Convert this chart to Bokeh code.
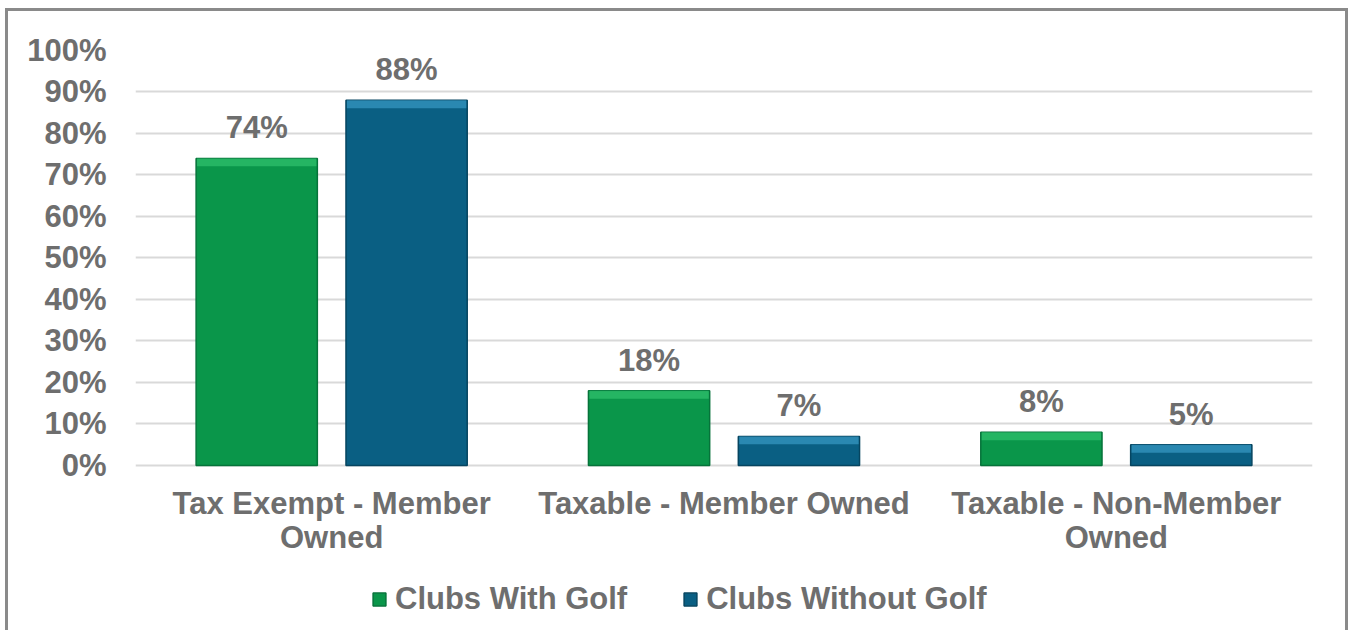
from bokeh.plotting import figure
from bokeh.models import (FactorRange, Range1d, FixedTicker, Legend, LegendItem,
                          ColumnDataSource, LabelSet)
from bokeh.core.properties import value
from bokeh.transform import dodge
from bokeh.embed import file_html
from bokeh.resources import INLINE

# ---- data ----
categories = ["Tax Exempt - Member\nOwned", "Taxable - Member Owned", "Taxable - Non-Member\nOwned"]
series_names = ["Clubs With Golf", "Clubs Without Golf"]
with_golf = [74, 18, 8]
without_golf = [88, 7, 5]
y_ticks = [0, 10, 20, 30, 40, 50, 60, 70, 80, 90, 100]
y_tick_labels = ["0%", "10%", "20%", "30%", "40%", "50%", "60%", "70%", "80%", "90%", "100%"]

# ---- style / layout ----
TXT = "#6e6e6e"
FONT = "Liberation Sans"
BAR_W = 0.309
OFF = 0.191
BAND = 1.9          # bevel band height (value units)
Y_MIN = -39.76      # frame extends below 0 to hold category labels and legend
LINE1_Y = -9.15     # baseline of first category-label line
LINE2_Y = -17.35    # baseline of second category-label line
styles = [
    dict(main="#0a964a", line="#06733a", band="#2fbf6c"),
    dict(main="#0a5f83", line="#064560", band="#3596c0"),
]

p = figure(x_range=FactorRange(*categories), y_range=Range1d(Y_MIN, 100),
           frame_width=1177, frame_height=580,
           min_border_left=127, min_border_right=33, min_border_top=39, min_border_bottom=0,
           output_backend="svg", toolbar_location=None, background_fill_color="white",
           border_fill_color="white")
p.outline_line_color = None
p.styles = {"margin-left": "5px", "margin-top": "8px",
            "border-top": "3px solid #8a8a8a", "border-left": "3px solid #8a8a8a",
            "border-right": "3px solid #8a8a8a"}

renderers = []
for vals, off, st, name in [(with_golf, -OFF, styles[0], series_names[0]),
                            (without_golf, OFF, styles[1], series_names[1])]:
    src = ColumnDataSource(dict(cat=categories, top=vals,
                                band_bottom=[v - BAND for v in vals],
                                label=[f"{v}%" for v in vals]))
    r = p.vbar(x=dodge("cat", off, range=p.x_range), top="top", bottom=0, width=BAR_W,
               source=src, fill_color=st["main"], line_color=st["line"], line_width=1.5)
    p.vbar(x=dodge("cat", off, range=p.x_range), top="top", bottom="band_bottom",
           width=BAR_W * 0.985, source=src, fill_color=st["band"], fill_alpha=0.75,
           line_color=None)
    renderers.append((name, r))
    labels = LabelSet(x=dodge("cat", off, range=p.x_range), y="top", text="label", source=src,
                      text_align="center", text_baseline="alphabetic", y_offset=20,
                      text_font=value(FONT), text_font_size="31px", text_font_style="bold",
                      text_color=TXT)
    p.add_layout(labels)

# category labels (two lines) drawn under the 0% line
cat_src = ColumnDataSource(dict(
    cat=categories,
    l1=[c.split("\n")[0] for c in categories],
    l2=[c.split("\n")[1] if "\n" in c else "" for c in categories],
    y1=[LINE1_Y] * len(categories),
    y2=[LINE2_Y] * len(categories)))
for col, ycol in (("l1", "y1"), ("l2", "y2")):
    p.text(x="cat", y=ycol, text=col, source=cat_src, text_align="center",
           text_baseline="alphabetic", text_font=value(FONT), text_font_size="31px",
           text_font_style="bold", text_color=TXT)

# axes
p.xaxis.visible = False
p.yaxis.ticker = FixedTicker(ticks=y_ticks)
p.yaxis.major_label_overrides = {t: l for t, l in zip(y_ticks, y_tick_labels)}
ax = p.yaxis[0]
ax.axis_line_color = None
ax.major_tick_line_color = None
ax.minor_tick_line_color = None
ax.major_label_text_font = FONT
ax.major_label_text_font_size = "31px"
ax.major_label_text_font_style = "bold"
ax.major_label_text_color = TXT
ax.major_label_standoff = 23

p.xgrid.grid_line_color = None
p.ygrid.grid_line_color = "#d9d9d9"
p.ygrid.grid_line_width = 2

legend = Legend(items=[LegendItem(label=n, renderers=[r]) for n, r in renderers],
                orientation="horizontal", location=(236, 13),
                border_line_color=None, background_fill_alpha=0,
                label_text_font=FONT, label_text_font_size="31px",
                label_text_font_style="bold", label_text_color=TXT,
                glyph_width=16, glyph_height=16, label_standoff=8, spacing=55,
                padding=0, margin=0)
p.add_layout(legend, "center")

open("out.html", "w").write(file_html(p, INLINE))
